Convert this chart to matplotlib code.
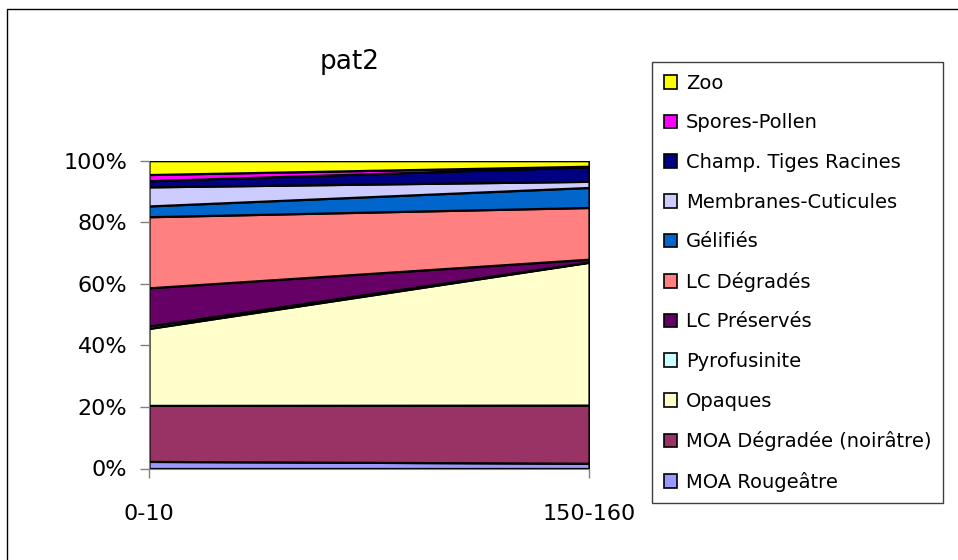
import numpy as np
import matplotlib
matplotlib.use("Agg")
import matplotlib.pyplot as plt
from matplotlib.patches import Patch, Rectangle

plt.rcParams['font.family'] = ['DejaVu Sans']

# sample depths (cm)
depths = ["0-10", "150-160"]

# composition in % for each depth, bottom to top of the stack
series_names = [
    "MOA Rougeâtre",
    "MOA Dégradée (noirâtre)",
    "Opaques",
    "Pyrofusinite",
    "LC Préservés",
    "LC Dégradés",
    "Gélifiés",
    "Membranes-Cuticules",
    "Champ. Tiges Racines",
    "Spores-Pollen",
    "Zoo",
]
moa_rouge = [2.3, 1.7]
moa_degradee = [18.2, 18.9]
opaques = [25.0, 46.4]
pyrofusinite = [0.8, 0.1]
lc_preserves = [12.4, 0.9]
lc_degrades = [23.1, 16.8]
gelifies = [3.5, 6.5]
membranes = [6.2, 2.0]
champ_tiges = [2.0, 4.7]
spores_pollen = [2.0, 0.2]
zoo = [4.5, 1.8]

colors = ["#9999FF", "#993366", "#FFFFCC", "#CCFFFF", "#660066", "#FF8080",
          "#0066CC", "#CCCCFF", "#000080", "#FF00FF", "#FFFF00"]

values = np.array([moa_rouge, moa_degradee, opaques, pyrofusinite, lc_preserves,
                   lc_degrades, gelifies, membranes, champ_tiges, spores_pollen, zoo])
fractions = values / values.sum(axis=0)

W, H = 958, 560
fig = plt.figure(figsize=(W / 100, H / 100), dpi=100)
ax = fig.add_axes([149 / W, 1 - 468.5 / H, 440 / W, 307.8 / H])

x = np.arange(len(depths))
ax.stackplot(x, *fractions, colors=colors, edgecolor="black", linewidth=1.6)

ax.set_xlim(0, 1)
ax.set_ylim(0, 1)
ax.set_yticks(np.linspace(0, 1, 6))
ax.set_yticklabels([f"{int(round(v * 100))}%" for v in np.linspace(0, 1, 6)], fontsize=16)
ax.set_xticks(x)
ax.set_xticklabels(depths, fontsize=16)
ax.tick_params(axis="y", direction="out", length=6.5, width=1, color="#808080", pad=9)
ax.tick_params(axis="x", direction="out", length=6.5, width=1, color="#808080", pad=19)
for side in ["top", "right"]:
    ax.spines[side].set_visible(False)
ax.spines["left"].set_color("#808080")
ax.spines["bottom"].set_color("#808080")

fig.text(350 / W, 1 - 62 / H, "pat2", fontsize=19, ha="center", va="center")

handles = [Patch(facecolor=c, edgecolor="black", linewidth=1.2) for c in colors]
leg = fig.legend(handles[::-1], series_names[::-1], loc="upper left",
                 bbox_to_anchor=(652 / W, 1 - 62 / H), fontsize=14,
                 frameon=True, fancybox=False, framealpha=1, edgecolor="#404040",
                 handlelength=0.7, handleheight=0.7, handletextpad=0.45,
                 labelspacing=1.06, borderpad=0.6, borderaxespad=0)
leg.get_frame().set_linewidth(1)

# outer frame around the chart area
fig.patches.append(Rectangle((7 / W, -0.1), 1.2, 1 - 9 / H + 0.1, fill=False,
                             edgecolor="black", linewidth=1, transform=fig.transFigure))

fig.savefig("out.png", dpi=100)
